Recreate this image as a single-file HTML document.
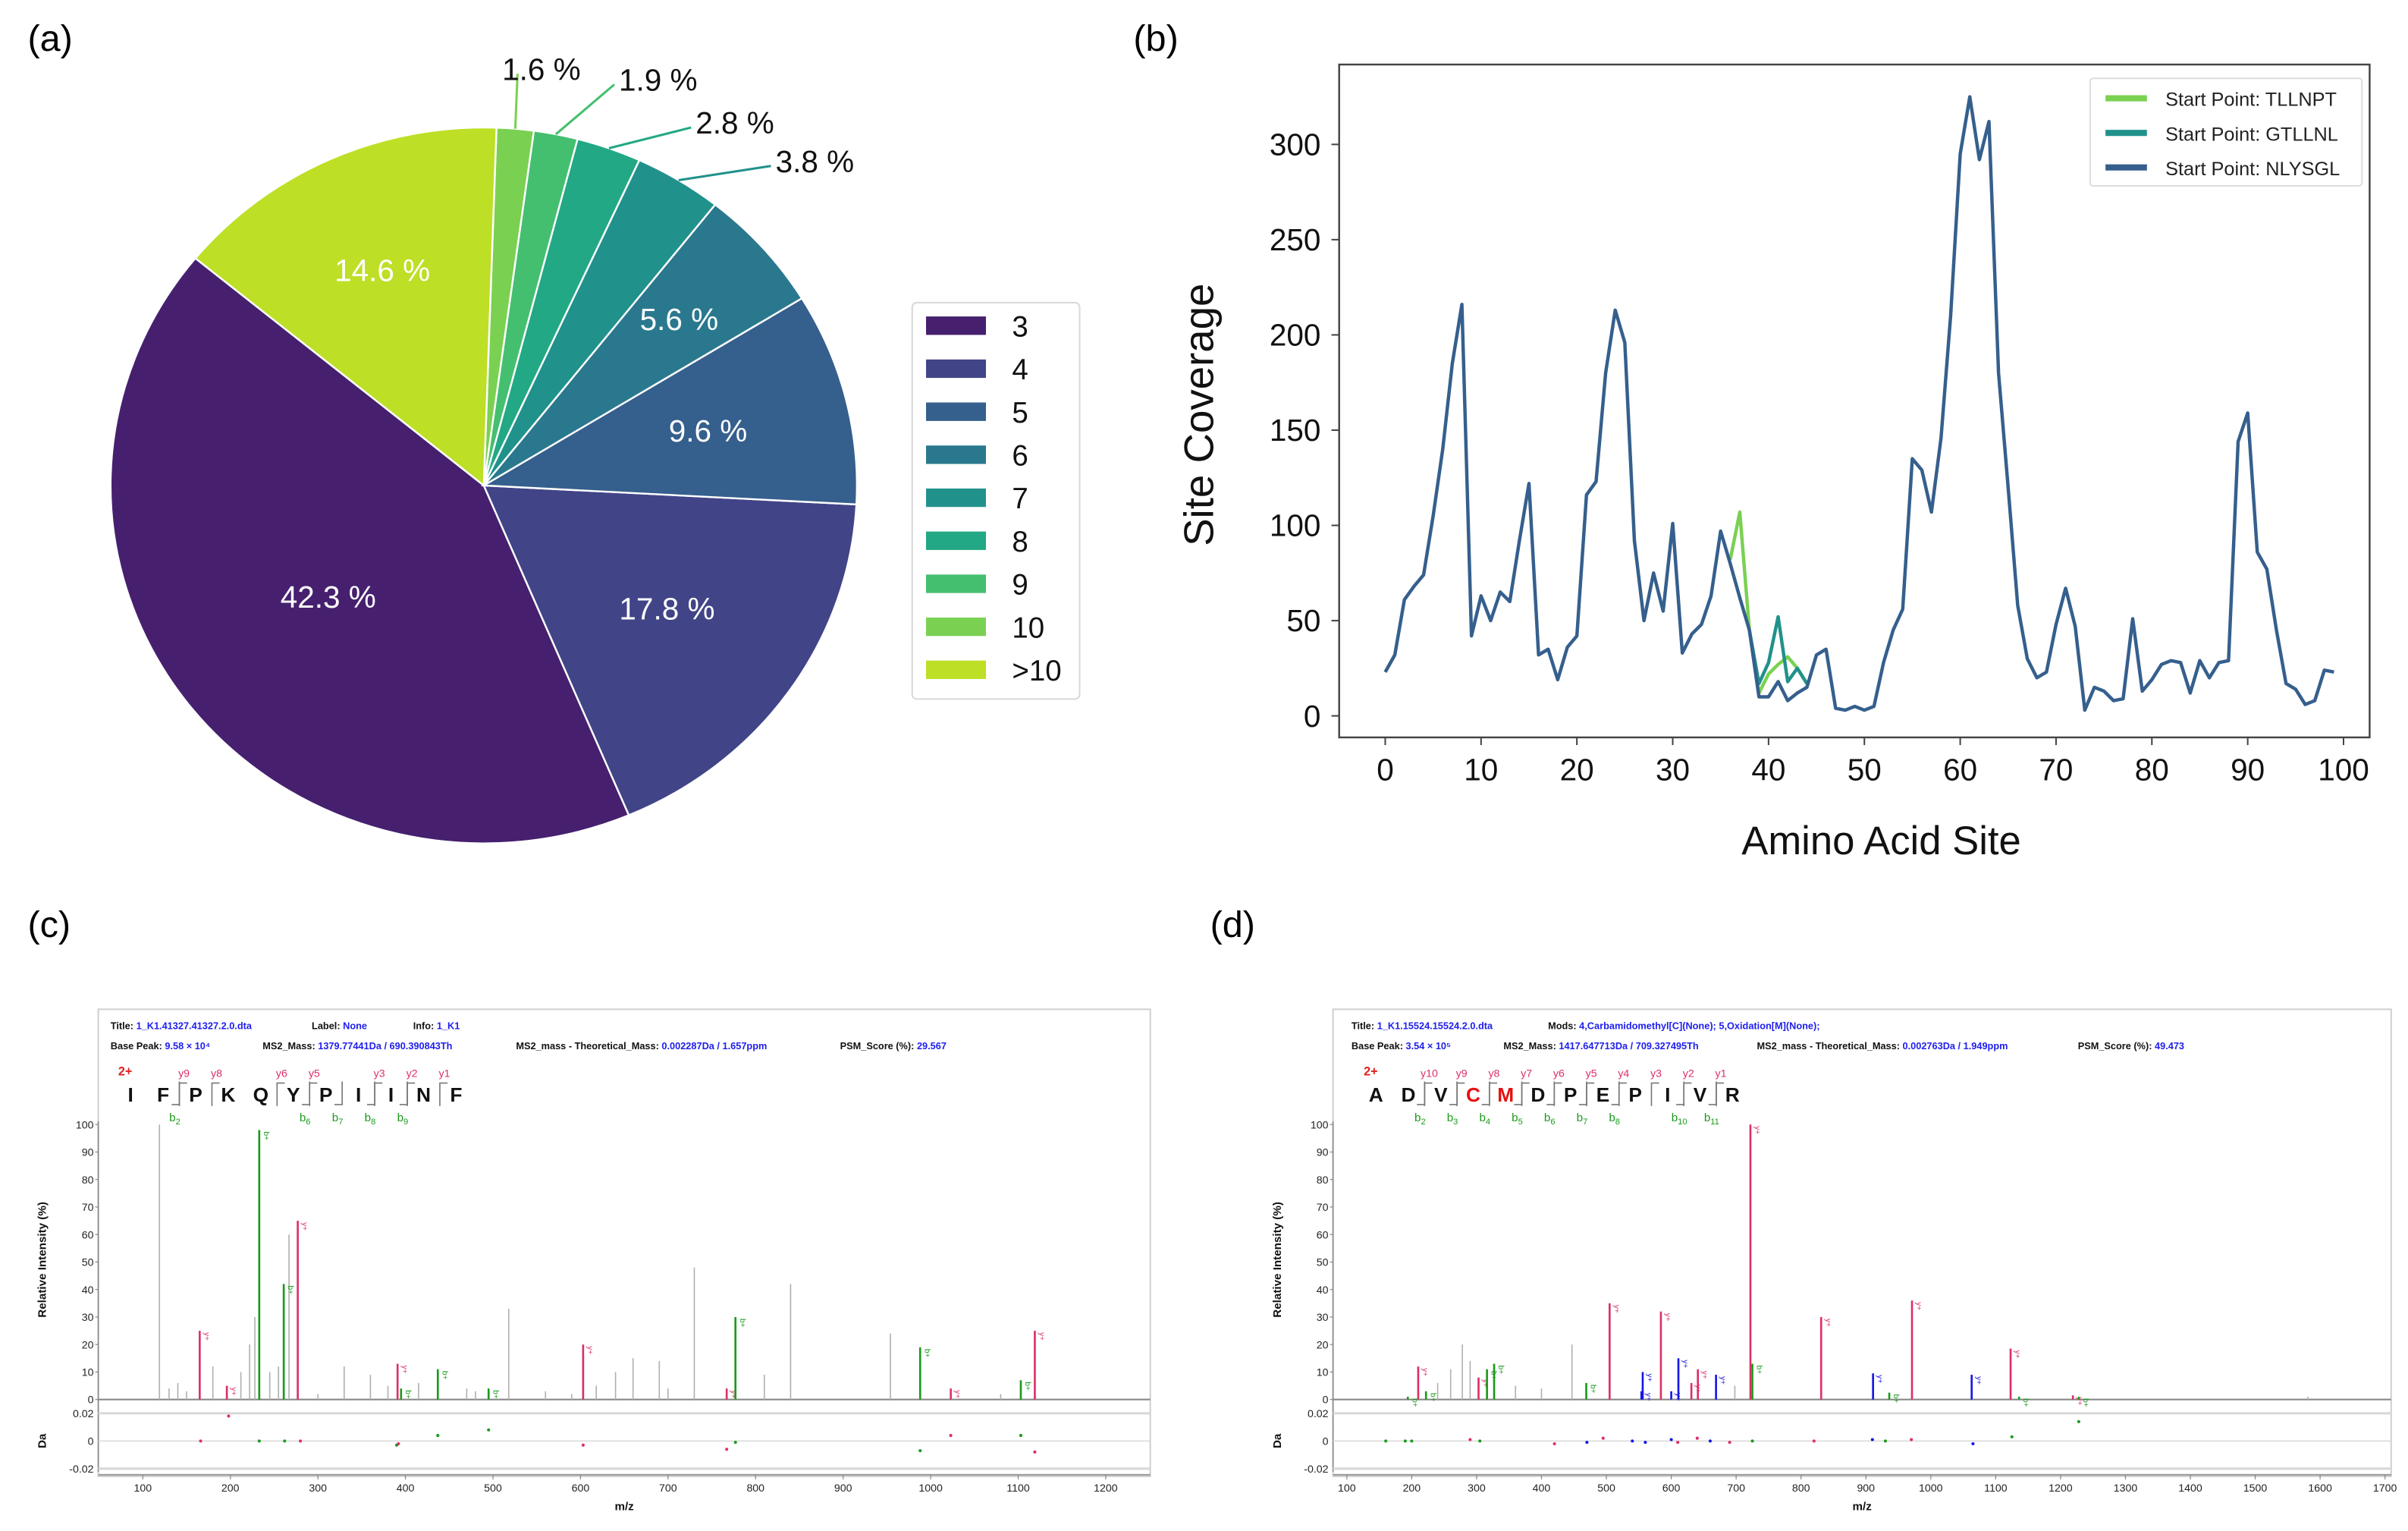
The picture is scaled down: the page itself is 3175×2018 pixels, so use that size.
<!DOCTYPE html>
<html><head><meta charset="utf-8">
<style>
html,body{margin:0;padding:0;background:#fff;}
svg{display:block;font-family:"Liberation Sans",Arial,sans-serif;}
</style></head>
<body>
<svg id="root" width="3175" height="2018" viewBox="0 0 3175 2018" xmlns="http://www.w3.org/2000/svg">
<g id="S" transform="scale(2.0249)">
  <text x="18" y="33" font-size="24">(a)</text>
  <text x="738" y="33" font-size="24">(b)</text>
  <text x="18" y="610" font-size="24">(c)</text>
  <text x="788" y="610" font-size="24">(d)</text>
  <g id="pie"></g>
  <g id="line"></g>
  <g id="specC"></g>
  <g id="specD"></g>
</g>
</svg>
<script>
// ---------- Pie data ----------
const pieCategories = ["3","4","5","6","7","8","9","10",">10"];
const pieValues = [42.3,17.8,9.6,5.6,3.8,2.8,1.9,1.6,14.6];
const pieLabels = ["42.3 %","17.8 %","9.6 %","5.6 %","3.8 %","2.8 %","1.9 %","1.6 %","14.6 %"];
const pieColors = ["#46206f","#414487","#355f8d","#2a788e","#21918c","#22a884","#44bf70","#7ad151","#bddf26"];

// ---------- Line chart data ----------
const siteX = Array.from({length:100},(_,i)=>i);
const nlysgl = [23,32,61,68,74,105,140,185,216,42,63,50,65,60,92,122,32,35,19,36,42,116,123,180,213,196,92,50,75,55,101,33,43,48,63,97,80,62,45,10,10,18,8,12,15,32,35,4,3,5,3,5,28,45,56,135,129,107,146,210,295,325,292,312,180,120,58,30,20,23,48,67,47,3,15,13,8,9,51,13,19,27,29,28,12,29,20,28,29,144,159,86,77,45,17,14,6,8,24,23];
const tllnptX = [36,37,38,39,40,41,42,43,44];
const tllnptY = [82,107,45,12,22,27,31,25,17];
const gtllnlX = [38,39,40,41,42,43,44];
const gtllnlY = [45,17,28,52,18,25,17];
const yTicks = [0,50,100,150,200,250,300];
const xTicks = [0,10,20,30,40,50,60,70,80,90,100];

// ---------- Spectrum C data ----------
const cMz =   [119,130,140,150,165,180,196,212,222,228,233,245,255,261,267,277,300,330,360,380,391,395,415,437,470,480,495,518,560,590,603,618,640,660,690,700,730,767,777,810,840,954,988,1023,1080,1103,1119];
const cInt =  [100,4,6,3,25,12,5,10,20,30,98,10,12,42,60,65,2,12,9,5,13,4,6,11,4,3,4,33,3,2,20,5,10,15,14,4,48,4,30,9,42,24,19,4,2,7,25];
const cType = ["g","g","g","g","y","g","y","g","g","g","b","g","g","b","g","y","g","g","g","g","y","b","g","b","g","g","b","g","g","g","y","g","g","g","g","g","g","y","b","g","g","g","b","y","g","b","y"];
const cErrMz = [166,198,233,262,280,390,392,437,495,603,767,777,988,1023,1103,1119];
const cErrV  = [0,0.018,0,0,0,-0.003,-0.002,0.004,0.008,-0.003,-0.006,-0.001,-0.007,0.004,0.004,-0.008];
const cErrT  = ["y","y","b","b","y","b","y","b","b","y","y","b","b","y","b","y"];
const cTicks = [100,200,300,400,500,600,700,800,900,1000,1100,1200];

// ---------- Spectrum D data ----------
const dMz =  [194,210,222,240,260,278,290,303,316,327,360,400,447,469,505,554,556,584,600,611,631,641,669,698,722,725,831,911,936,971,1063,1123,1136,1219,1228,1581];
const dInt = [1,12,3,6,11,20,14,8,11,13,5,4,20,6,35,3,10,32,3,15,6,11,9,5,100,13,30,9.5,2.5,36,9,18.5,1,1.5,1,1];
const dType =["b","y","b","g","g","g","g","y","b","b","g","g","g","b","y","c","c","y","c","c","y","y","c","g","y","b","y","c","b","y","c","y","b","y","b","g"];
const dErrMz = [160,190,200,290,305,420,470,495,540,560,600,610,640,660,690,725,820,910,930,970,1065,1125,1228];
const dErrV  = [0,0,0,0.001,0,-0.002,-0.001,0.002,0,-0.001,0.001,-0.001,0.002,0,-0.001,0,0,0.001,0,0.001,-0.002,0.003,0.014];
const dErrT  = ["b","b","b","y","b","y","c","y","c","c","c","y","y","c","y","b","y","c","b","y","c","b","b"];
const dTicks = [100,200,300,400,500,600,700,800,900,1000,1100,1200,1300,1400,1500,1600,1700];

const NS="http://www.w3.org/2000/svg";
function mk(parent,tag,attrs,text){const e=document.createElementNS(NS,tag);for(const k in attrs)e.setAttribute(k,attrs[k]);if(text!==undefined)e.textContent=text;parent.appendChild(e);return e;}

// ================= PIE =================
(function(){
  const g=document.getElementById('pie');
  const cx=315,cy=316,rx=243,ry=233;
  const total=pieValues.reduce((a,b)=>a+b,0);
  let a0=140.6;
  const P=(deg,r)=>[cx+rx*r*Math.cos(deg*Math.PI/180), cy-ry*r*Math.sin(deg*Math.PI/180)];
  const outerPos={4:[505,112],5:[453,87],6:[403,59],7:[327,52]};
  const inR=[0.52,0.6,0.62,0.7,0.6,0.6,0.6,0.6,0.66];
  pieValues.forEach((v,i)=>{
    const span=v/total*360, a1=a0+span;
    const p0=P(a0,1),p1=P(a1,1);
    const large=span>180?1:0;
    const w=mk(g,'path',{d:`M${cx},${cy} L${p0[0]},${p0[1]} A${rx},${ry} 0 ${large} 0 ${p1[0]},${p1[1]} Z`,fill:pieColors[i],stroke:'#fff','stroke-width':1.2});
    
    
    const mid=(a0+a1)/2;
    if(outerPos[i]){
      const e=P(mid,1.0), t=outerPos[i];
      const tx2 = i===7 ? t[0]+10 : t[0]-3;
      const l=mk(g,'line',{x1:e[0],y1:e[1],x2:tx2,y2:t[1]-4,stroke:pieColors[i],'stroke-width':1.5});
      
      
      const tx=mk(g,'text',{x:t[0],y:t[1],'font-size':20,fill:'#111'},pieLabels[i]);
      
      
    } else {
      const p=P(mid,inR[i]);
      const tx=mk(g,'text',{x:p[0],y:p[1]+7,'font-size':20,fill:'#fff','text-anchor':'middle'},pieLabels[i]);
      
      
    }
    a0=a1;
  });
  const lg=mk(g,'g',{});
  
  
  mk(lg,'rect',{x:594,y:197,width:109,height:258,rx:3,fill:'#fff',stroke:'#d8d8d8','stroke-width':1});
  pieCategories.forEach((c,i)=>{
    const y=212+i*28;
    const e=mk(lg,'g',{});
    
    
    mk(e,'rect',{x:603,y:y-6,width:39,height:12,fill:pieColors[i]});
    mk(e,'text',{x:659,y:y+7,'font-size':19,fill:'#111'},c);
  });
})();

// ================= LINE CHART =================
(function(){
  const g=document.getElementById('line');
  const L=872,R=1543,T=42,B=480;
  const X=v=>902+v*6.24, Y=v=>466-v*1.24;
  const fr=mk(g,'rect',{x:L,y:T,width:R-L,height:B-T,fill:'none',stroke:'#444','stroke-width':1.2});
  
  
  yTicks.forEach(t=>{
    mk(g,'line',{x1:L-5,x2:L,y1:Y(t),y2:Y(t),stroke:'#444','stroke-width':1});
    const tx=mk(g,'text',{x:L-12,y:Y(t)+7,'font-size':20,'text-anchor':'end',fill:'#111'},t);
    
    
  });
  xTicks.forEach(t=>{
    mk(g,'line',{x1:X(t),x2:X(t),y1:B,y2:B+5,stroke:'#444','stroke-width':1});
    const tx=mk(g,'text',{x:X(t),y:B+28,'font-size':20,'text-anchor':'middle',fill:'#111'},t);
    
    
  });
  const yt=mk(g,'text',{x:0,y:0,'font-size':27,'text-anchor':'middle',fill:'#111',transform:`translate(790,270) rotate(-90)`},'Site Coverage');
  
  
  const xt=mk(g,'text',{x:1225,y:556,'font-size':26,'text-anchor':'middle',fill:'#111'},'Amino Acid Site');
  
  
  const poly=(xs,ys,c,name)=>{
    const p=mk(g,'polyline',{points:xs.map((x,i)=>X(x)+','+Y(ys[i])).join(' '),fill:'none',stroke:c,'stroke-width':2.2,'stroke-linejoin':'round'});
    
    
  };
  poly(tllnptX,tllnptY,'#7ad151','series-tllnpt');
  poly(gtllnlX,gtllnlY,'#21918c','series-gtllnl');
  poly(siteX,nlysgl,'#355f8d','series-nlysgl');
  const lg=mk(g,'g',{});
  
  
  mk(lg,'rect',{x:1361,y:51,width:177,height:70,rx:2,fill:'#fff',stroke:'#ddd'});
  [['Start Point: TLLNPT','#7ad151'],['Start Point: GTLLNL','#21918c'],['Start Point: NLYSGL','#355f8d']].forEach((e,i)=>{
    const y=64+i*22.5;
    const eg=mk(lg,'g',{});
    
    
    mk(eg,'line',{x1:1371,x2:1398,y1:y,y2:y,stroke:e[1],'stroke-width':4});
    mk(eg,'text',{x:1410,y:y+5,'font-size':12.5,fill:'#222'},e[0]);
  });
})();

// ================= SPECTRA =================
const colMap={y:'#dc2f65',b:'#1a9a1a',g:'#b0b0b0',c:'#1515e6'};
function spectrum(id,opt,mzs,ints,types,eMz,eV,eT,ticks){
  const g=document.getElementById(id);
  const X=m=>opt.x0+(m-100)*opt.k;
  const Y=v=>911-v*1.79;
  const E=v=>938-v*900;
  const L=opt.L,R=opt.R;
  const fr=mk(g,'rect',{x:L,y:657,width:R-L,height:304,fill:'#fff',stroke:'#cfcfcf','stroke-width':1});
  
  
  opt.hdr.forEach(h=>{
    const t=mk(g,'text',{x:h[0],y:h[1],'font-size':6.3,'font-weight':'bold',fill:'#111'},h[2]);
    mk(t,'tspan',{fill:'#2020ee'},h[3]);
    
    
  });
  const z=mk(g,'text',{x:opt.seqX-8,y:700,'font-size':8,'font-weight':'bold',fill:'#e02020'},'2+');
  
  
  opt.seq.forEach((s,i)=>{
    const x=opt.seqX+i*opt.seqD;
    const t=mk(g,'text',{x:x,y:717,'font-size':13,'font-weight':'bold','text-anchor':'middle',fill:opt.red.includes(i)?'#e81010':'#111'},s);
    
    
  });
  opt.yIons.forEach(p=>{
    const x=opt.seqX+(p[0]+0.5)*opt.seqD;
    mk(g,'path',{d:`M${x},720 L${x},705 L${x+5},705`,fill:'none',stroke:'#777','stroke-width':0.8});
    mk(g,'text',{x:x+3,y:701,'font-size':7,'text-anchor':'middle',fill:'#dc2f65'},p[1]);
  });
  opt.bIons.forEach(p=>{
    const x=opt.seqX+(p[0]+0.5)*opt.seqD;
    mk(g,'path',{d:`M${x},704 L${x},719 L${x-5},719`,fill:'none',stroke:'#777','stroke-width':0.8});
    const t=mk(g,'text',{x:x-3,y:730,'font-size':7.5,'text-anchor':'middle',fill:'#1a9a1a'},'b');
    mk(t,'tspan',{'font-size':5.5,dy:2},p[1]);
  });
  mk(g,'line',{x1:L,x2:R,y1:911,y2:911,stroke:'#888','stroke-width':1});
  mk(g,'line',{x1:L,x2:L,y1:730,y2:958,stroke:'#888','stroke-width':0.8});
  for(let t=0;t<=100;t+=10){
    mk(g,'line',{x1:L-2,x2:L,y1:Y(t),y2:Y(t),stroke:'#888','stroke-width':0.6});
    mk(g,'text',{x:L-3,y:Y(t)+2.5,'font-size':7,'text-anchor':'end',fill:'#222'},t);
  }
  [0.02,0,-0.02].forEach(v=>{
    mk(g,'line',{x1:L,x2:R,y1:E(v),y2:E(v),stroke:'#d8d8d8','stroke-width':v===0?0.7:1.5});
    mk(g,'text',{x:L-3,y:E(v)+2.5,'font-size':7,'text-anchor':'end',fill:'#222'},v===0?'0':v.toFixed(2));
  });
  mk(g,'line',{x1:L,x2:R,y1:960,y2:960,stroke:'#999','stroke-width':1});
  ticks.forEach(t=>{
    mk(g,'line',{x1:X(t),x2:X(t),y1:960,y2:963,stroke:'#888','stroke-width':0.6});
    const tx=mk(g,'text',{x:X(t),y:971,'font-size':7,'text-anchor':'middle',fill:'#222'},t);
    
    
  });
  const mzl=mk(g,'text',{x:(L+R)/2,y:983,'font-size':7.5,'font-weight':'bold','text-anchor':'middle',fill:'#111'},'m/z');
  
  
  const yl=mk(g,'text',{x:0,y:0,'font-size':7.5,'font-weight':'bold','text-anchor':'middle',fill:'#111',transform:`translate(${L-34},820) rotate(-90)`},'Relative Intensity (%)');
  
  
  const da=mk(g,'text',{x:0,y:0,'font-size':7.5,'font-weight':'bold','text-anchor':'middle',fill:'#111',transform:`translate(${L-34},938) rotate(-90)`},'Da');
  
  
  const order=mzs.map((m,i)=>i).sort((a,b)=>(types[a]==='g'?0:1)-(types[b]==='g'?0:1));
  order.forEach(i=>{
    const c=colMap[types[i]];
    const l=mk(g,'line',{x1:X(mzs[i]),x2:X(mzs[i]),y1:911,y2:Y(ints[i]),stroke:c,'stroke-width':types[i]==='g'?0.8:1.3});
    
    
    if(types[i]!=='g'){
      const t=mk(g,'text',{x:0,y:0,'font-size':5,fill:c,transform:`translate(${X(mzs[i])+3},${Y(ints[i])+1}) rotate(90)`},types[i]==='b'?'b+':'y+');
      
      
    }
  });
  eMz.forEach((m,i)=>{
    const d=mk(g,'circle',{cx:X(m),cy:E(eV[i]),r:1,fill:colMap[eT[i]]});
    
    
  });
}
spectrum('specC',{x0:93,k:0.57,L:64,R:749,seqX:85,seqD:21.2,red:[],
  seq:['I','F','P','K','Q','Y','P','I','I','N','F'],
  yIons:[[1,'y9'],[2,'y8'],[4,'y6'],[5,'y5'],[7,'y3'],[8,'y2'],[9,'y1']],
  bIons:[[1,'2'],[5,'6'],[6,'7'],[7,'8'],[8,'9']],
  hdr:[[72,670,'Title: ','1_K1.41327.41327.2.0.dta'],[203,670,'Label: ','None'],[269,670,'Info: ','1_K1'],
       [72,683,'Base Peak: ','9.58 × 10⁴'],[171,683,'MS2_Mass: ','1379.77441Da / 690.390843Th'],[336,683,'MS2_mass - Theoretical_Mass: ','0.002287Da / 1.657ppm'],[547,683,'PSM_Score (%): ','29.567']]},
  cMz,cInt,cType,cErrMz,cErrV,cErrT,cTicks);
spectrum('specD',{x0:877,k:0.4225,L:868,R:1557,seqX:896,seqD:21.1,red:[3,4],
  seq:['A','D','V','C','M','D','P','E','P','I','V','R'],
  yIons:[[1,'y10'],[2,'y9'],[3,'y8'],[4,'y7'],[5,'y6'],[6,'y5'],[7,'y4'],[8,'y3'],[9,'y2'],[10,'y1']],
  bIons:[[1,'2'],[2,'3'],[3,'4'],[4,'5'],[5,'6'],[6,'7'],[7,'8'],[9,'10'],[10,'11']],
  hdr:[[880,670,'Title: ','1_K1.15524.15524.2.0.dta'],[1008,670,'Mods: ','4,Carbamidomethyl[C](None); 5,Oxidation[M](None);'],
       [880,683,'Base Peak: ','3.54 × 10⁵'],[979,683,'MS2_Mass: ','1417.647713Da / 709.327495Th'],[1144,683,'MS2_mass - Theoretical_Mass: ','0.002763Da / 1.949ppm'],[1353,683,'PSM_Score (%): ','49.473']]},
  dMz,dInt,dType,dErrMz,dErrV,dErrT,dTicks);
</script>
</body></html>
